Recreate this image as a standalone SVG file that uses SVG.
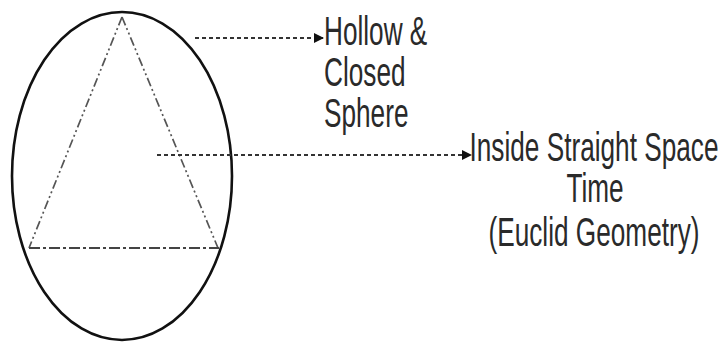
<svg xmlns="http://www.w3.org/2000/svg" width="726" height="342" viewBox="0 0 726 342">
<style>
.lbl{font-family:"Liberation Sans",Arial,sans-serif;font-size:40px;fill:#2a2a2a}
.mid{text-anchor:middle}
.conn{stroke:#333;stroke-width:2;stroke-dasharray:4 3;fill:none}
.tri{stroke:#555;stroke-width:1.7;fill:none;stroke-dasharray:9 3 2 3 2 3}
.base{stroke:#444;stroke-width:2.2;fill:none;stroke-dasharray:11 3 3 3}
</style>
<defs>
<marker id="ah" markerWidth="10" markerHeight="10" refX="9" refY="5" orient="auto" markerUnits="userSpaceOnUse">
<path d="M0,0 L10,5 L0,10 Z" fill="#111"/>
</marker>
</defs>
<rect width="726" height="342" fill="#fff"/>
<g id="sphere">
<ellipse cx="122" cy="176" rx="110" ry="164" fill="none" stroke="#111" stroke-width="2.6"/>
</g>
<g id="triangle">
<line class="tri" x1="122" y1="17" x2="29" y2="248"/>
<line class="tri" x1="122" y1="17" x2="218" y2="248"/>
<line class="base" x1="29" y1="248" x2="219" y2="248"/>
</g>
<g id="connectors">
<line class="conn" x1="195" y1="38" x2="323" y2="38" marker-end="url(#ah)"/>
<line class="conn" x1="157" y1="155" x2="471" y2="155" marker-end="url(#ah)"/>
</g>
<g id="label-hollow">
<text class="lbl" transform="translate(324,45) scale(0.655,1)" x="0" y="0">Hollow &amp;</text>
<text class="lbl" transform="translate(324,86) scale(0.655,1)" x="0" y="0">Closed</text>
<text class="lbl" transform="translate(324,127) scale(0.655,1)" x="0" y="0">Sphere</text>
</g>
<g id="label-inside">
<text class="lbl mid" transform="translate(594,161) scale(0.655,1)" x="0" y="0">Inside Straight Space</text>
<text class="lbl mid" transform="translate(595,202) scale(0.655,1)" x="0" y="0">Time</text>
<text class="lbl mid" transform="translate(594,246) scale(0.655,1)" x="0" y="0">(Euclid Geometry)</text>
</g>
</svg>
